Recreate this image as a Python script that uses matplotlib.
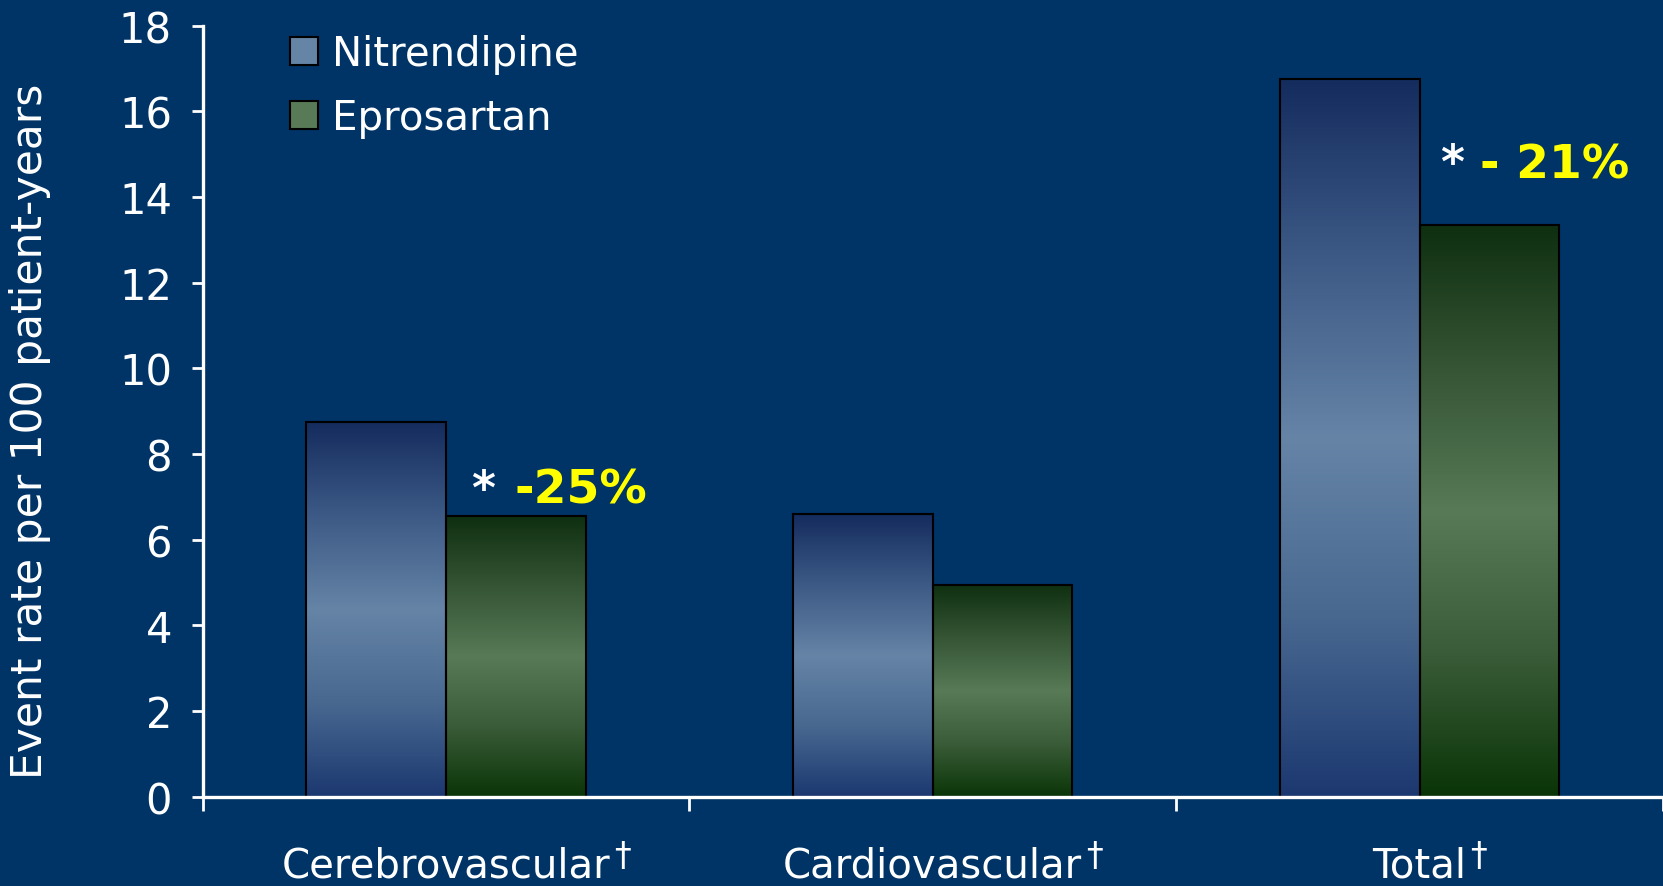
import numpy as np
import matplotlib
matplotlib.use("Agg")
import matplotlib.pyplot as plt
from matplotlib.colors import LinearSegmentedColormap
from matplotlib.patches import Patch

# data
categories = ["Cerebrovascular", "Cardiovascular", "Total"]
nitrendipine = [8.75, 6.6, 16.75]
eprosartan = [6.55, 4.95, 13.35]
series_names = ["Nitrendipine", "Eprosartan"]
annotations = [(0, "-25%"), (2, "- 21%")]

BG = "#003366"
nit_cmap = LinearSegmentedColormap.from_list(
    "nit", [(0.0, "#1c3870"), (0.25, "#486890"), (0.5, "#6584a6"),
            (0.75, "#3d5a86"), (1.0, "#142c5e")])
epr_cmap = LinearSegmentedColormap.from_list(
    "epr", [(0.0, "#0a3508"), (0.25, "#3a5c38"), (0.5, "#587a56"),
            (0.75, "#355535"), (1.0, "#0f3010")])

plt.rcParams["font.family"] = ["DejaVu Sans"]

fig = plt.figure(figsize=(16.63, 8.87), dpi=100, facecolor=BG)
ax = fig.add_axes([0.1218, 0.1008, 0.8782, 0.8692], facecolor=BG)

x = np.arange(len(categories)) + 0.5
w = 0.287
grad = np.linspace(0, 1, 256).reshape(-1, 1)

for vals, off, cmap in [(nitrendipine, -w / 2, nit_cmap), (eprosartan, w / 2, epr_cmap)]:
    bars = ax.bar(x + off, vals, width=w, facecolor="none", edgecolor="black",
                  linewidth=1.5, zorder=3)
    for b in bars:
        x0, h = b.get_x(), b.get_height()
        im = ax.imshow(grad, cmap=cmap, origin="lower", aspect="auto",
                       extent=[x0, x0 + b.get_width(), 0, h], zorder=2)
        im.set_clip_path(b)

ax.set_xlim(0, 3)
ax.set_ylim(0, 18)

for s in ["top", "right"]:
    ax.spines[s].set_visible(False)
for s in ["left", "bottom"]:
    ax.spines[s].set_color("white")
    ax.spines[s].set_linewidth(2.4)
    ax.spines[s].set_zorder(4)

ax.set_yticks(np.arange(0, 19, 2))
ax.tick_params(axis="y", colors="white", labelsize=30, length=8, width=2, pad=14)
ax.set_xticks([0, 1, 2, 3])
ax.set_xticklabels([])
ax.set_xticks(x, minor=True)
ax.set_xticklabels(categories, minor=True)
ax.tick_params(axis="x", which="major", colors="white", length=10, width=2)
ax.tick_params(axis="x", which="minor", colors="white", length=0, labelsize=29, pad=35)

ax.set_ylabel("Event rate per 100 patient-years", color="white", fontsize=30.5)
ax.yaxis.set_label_coords(-0.104, 0.475)

# daggers after category labels
fig.canvas.draw()
inv = fig.transFigure.inverted()
for lab in ax.get_xticklabels(minor=True):
    bb = lab.get_window_extent()
    (fx, fy) = inv.transform((bb.x1 + 4, bb.y1 + 6))
    fig.text(fx, fy, "\u2020", color="white", fontsize=24, ha="left", va="top")

# significance annotations
for i, txt in annotations:
    yv = eprosartan[i] + (0.6 if i == 0 else 1.4)
    ax.text(i + 0.552 - (0.01 if i == 2 else 0), yv, "*", color="white", fontsize=33,
            fontweight="bold", ha="left", va="center", zorder=5)
    ax.text(i + 0.641 - (0.017 if i == 2 else 0), yv, txt, color="#ffff00",
            fontsize=34, fontweight="bold", ha="left", va="center", zorder=5)

handles = [Patch(facecolor="#6584a6", edgecolor="black", linewidth=1.5),
           Patch(facecolor="#587a56", edgecolor="black", linewidth=1.5)]
leg = ax.legend(handles, series_names, loc="upper left", bbox_to_anchor=(0.035, 1.036),
                frameon=False, fontsize=29, handlelength=0.7, handleheight=0.7,
                handletextpad=0.35, labelspacing=0.6)
for t in leg.get_texts():
    t.set_color("white")

fig.savefig("out.png", dpi=100, facecolor=BG)
